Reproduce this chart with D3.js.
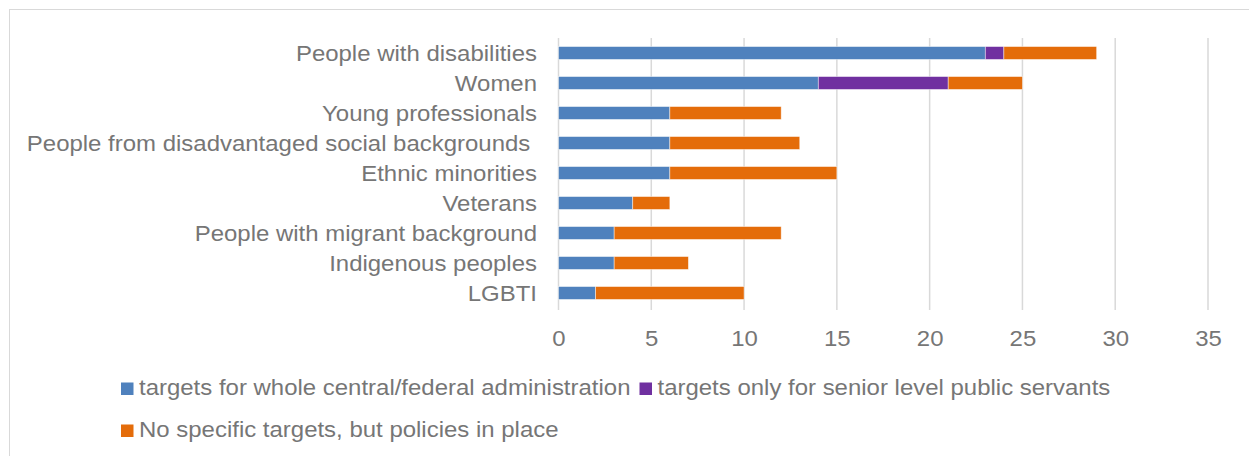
<!DOCTYPE html>
<html>
<head>
<meta charset="utf-8">
<script src="https://cdn.jsdelivr.net/npm/d3@7"></script>
<style>
  html, body { margin: 0; padding: 0; background: #fff; }
  svg { display: block; font-family: "Liberation Sans", Arial, sans-serif; }
  text { white-space: pre; }
</style>
</head>
<body>
<svg id="chart" width="1249" height="456"></svg>
<script>
// Groups, top to bottom
const categories = [
  "People with disabilities",
  "Women",
  "Young professionals",
  "People from disadvantaged social backgrounds ",
  "Ethnic minorities",
  "Veterans",
  "People with migrant background",
  "Indigenous peoples",
  "LGBTI"
];
// Number of countries per type of target
const wholeAdmin   = [23, 14, 6, 6, 6, 4, 3, 3, 2];
const seniorOnly   = [1, 7, 0, 0, 0, 0, 0, 0, 0];
const policiesOnly = [5, 4, 6, 7, 9, 2, 9, 4, 8];

const seriesNames = [
  "targets for whole central/federal administration",
  "targets only for senior level public servants",
  "No specific targets, but policies in place"
];
const seriesColors = ["#4F81BD", "#7030A0", "#E46C0A"];
const xTicks = [0, 5, 10, 15, 20, 25, 30, 35];

const svg = d3.select("#chart");
const W = 1249, H = 456;
const textColor = "#767676";
const fontSize = 22.3;
const stretch = "scale(1.075,1)";

// outer frame
svg.append("rect")
  .attr("x", 9.5).attr("y", 9.5)
  .attr("width", W + 20).attr("height", H + 20)
  .attr("fill", "none").attr("stroke", "#d9d9d9").attr("stroke-width", 1);

const plot = { left: 558.5, right: 1208, top: 38, bottom: 308 };

const x = d3.scaleLinear().domain([0, 35]).range([plot.left, plot.right]);
const y = d3.scaleBand().domain(categories).range([plot.top, plot.bottom]).paddingInner(0.57).paddingOuter(0.285);

// vertical gridlines
svg.append("g").selectAll("line").data(xTicks).join("line")
  .attr("x1", d => x(d)).attr("x2", d => x(d))
  .attr("y1", plot.top).attr("y2", plot.bottom + 2)
  .attr("stroke", "#d9d9d9").attr("stroke-width", 1.5);

// stacked bars
const rows = categories.map((c, i) => ({ cat: c, vals: [wholeAdmin[i], seniorOnly[i], policiesOnly[i]] }));
const stack = d3.stack().keys([0, 1, 2]).value((d, k) => d.vals[k]);
const layers = stack(rows);

svg.append("g").selectAll("g").data(layers).join("g")
  .attr("fill", (d, i) => seriesColors[i])
  .selectAll("rect").data(d => d.filter(s => s[1] > s[0])).join("rect")
  .attr("x", d => x(d[0]))
  .attr("y", d => y(d.data.cat))
  .attr("width", d => x(d[1]) - x(d[0]))
  .attr("height", y.bandwidth())
  .attr("stroke", "#ffffff").attr("stroke-opacity", 0.6).attr("stroke-width", 0.75);

// category labels
svg.append("g").selectAll("text").data(categories).join("text")
  .attr("transform", d => `translate(537,${y(d) + y.bandwidth() / 2}) ${stretch}`)
  .attr("dy", "0.35em")
  .attr("text-anchor", "end")
  .attr("font-size", fontSize)
  .attr("fill", textColor)
  .text(d => d);

// x tick labels
const xAxis = d3.axisBottom(x).tickValues(xTicks).tickSize(0).tickPadding(0);
const gx = svg.append("g").attr("transform", `translate(0, 330)`).call(xAxis);
gx.select(".domain").remove();
gx.selectAll("text")
  .attr("font-size", fontSize)
  .attr("font-family", "Liberation Sans, Arial, sans-serif")
  .attr("fill", textColor)
  .attr("y", 0)
  .attr("dy", "0.71em")
  .attr("transform", stretch);

// legend
const legendItems = [
  { i: 0, x: 121, y: 395 },
  { i: 1, x: 639.5, y: 395 },
  { i: 2, x: 121, y: 437 }
];
const lg = svg.append("g").selectAll("g").data(legendItems).join("g")
  .attr("transform", d => `translate(${d.x},${d.y})`);
lg.append("rect")
  .attr("x", 0).attr("y", -12.5).attr("width", 12.5).attr("height", 12.5)
  .attr("fill", d => seriesColors[d.i]);
lg.append("text")
  .attr("transform", `translate(18,0) ${stretch}`)
  .attr("font-size", fontSize)
  .attr("fill", textColor)
  .text(d => seriesNames[d.i]);
</script>
</body>
</html>
